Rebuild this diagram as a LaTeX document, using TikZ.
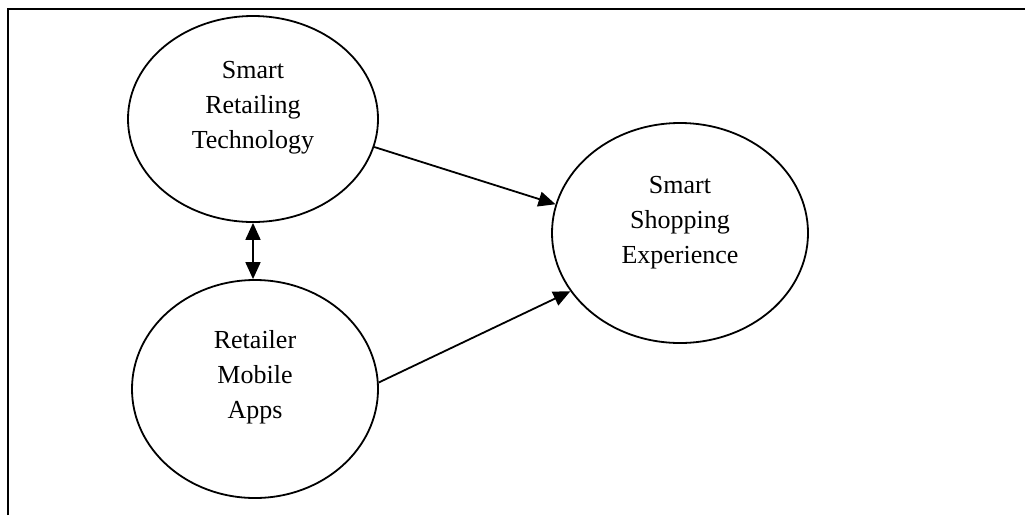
\documentclass[tikz,border=0pt]{standalone}
\usepackage{fontspec}
\setmainfont{Liberation Serif}
\usetikzlibrary{shapes.geometric,arrows.meta}
\begin{document}
\begin{tikzpicture}[x=1pt,y=-1pt,
  oval/.style={draw,ellipse,line width=1.8pt,inner sep=0pt},
  lbl/.style={align=center,font=\fontsize{26}{35}\selectfont},
  conn/.style={line width=1.8pt,-{Triangle[length=17pt,width=15pt]}},
  dconn/.style={line width=1.8pt,{Triangle[length=17pt,width=15pt]}-{Triangle[length=17pt,width=15pt]}},
  frame/.style={line width=2.4pt}]
\useasboundingbox (0,0) rectangle (1025,515);
\coordinate (fa) at (8,515);
\coordinate (fb) at (8,9);
\coordinate (fc) at (1025,9);
\draw[frame] (fa) -- (fb) -- (fc);
\node[oval,minimum width=250pt,minimum height=206pt] (e1) at (253,119) {};
\node[oval,minimum width=246pt,minimum height=218pt] (e2) at (255,389) {};
\node[oval,minimum width=256pt,minimum height=220pt] (e3) at (680,233) {};
\node[lbl] (t1) at ([yshift=11pt]e1.center) {Smart\\Retailing\\Technology};
\node[lbl] (t2) at ([yshift=12pt]e2.center) {Retailer\\Mobile\\Apps};
\node[lbl] (t3) at ([yshift=10pt]e3.center) {Smart\\Shopping\\Experience};
\coordinate (d2) at (e1.south |- e2.north);
\draw[conn] (e1.-13.6) -- (e3.167.6);
\draw[conn] (e2.3.7) -- (e3.208.2);
\draw[dconn] (e1.south) -- (d2);
\end{tikzpicture}
\end{document}
